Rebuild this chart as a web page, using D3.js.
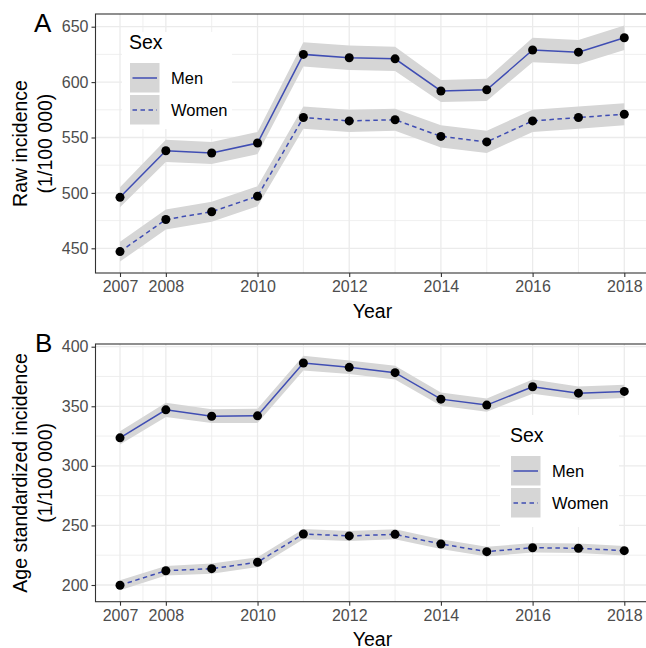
<!DOCTYPE html>
<html>
<head>
<meta charset="utf-8">
<script src="https://cdn.jsdelivr.net/npm/d3@7"></script>
<style>
  html, body { margin: 0; padding: 0; background: #fff; }
  svg { display: block; font-family: "Liberation Sans", Arial, Helvetica, sans-serif; }
</style>
</head>
<body>
<svg id="chart" width="646" height="648"></svg>
<script>
// ---------- DATA ----------
const years = [2007, 2008, 2009, 2010, 2011, 2012, 2013, 2014, 2015, 2016, 2017, 2018];
const xTickYears = [2007, 2008, 2010, 2012, 2014, 2016, 2018];
const xMinorYears = [2007.5, 2009, 2011, 2013, 2015, 2017];
const sexes = ["Men", "Women"];

// Panel A: raw incidence (1/100 000)
const rawMen      = [496, 538, 536, 545, 625, 622, 621, 592, 593, 629, 627, 640];
const rawMenLow   = [487, 528, 526, 535, 614, 611, 610, 582, 583, 618, 616, 629];
const rawMenHigh  = [505, 548, 546, 555, 636, 633, 632, 602, 603, 640, 638, 651];
const rawWomen    = [447, 476, 483, 497, 568, 565, 566, 551, 546, 565, 568, 571];
const rawWomenLow = [438, 467, 474, 488, 558, 555, 556, 541, 536, 555, 558, 561];
const rawWomenHigh= [456, 485, 492, 506, 578, 575, 576, 561, 556, 575, 578, 581];
const rawTicks = [450, 500, 550, 600, 650];
const rawMinor = [475, 525, 575, 625];

// Panel B: age standardized incidence (1/100 000)
const ageMen      = [323.5, 347, 341.6, 342, 386.3, 382.7, 378.2, 356, 351, 366.4, 361, 362.5];
const ageMenLow   = [318, 341, 336, 336, 380, 377, 372.5, 350.5, 345.5, 360.5, 355.5, 357];
const ageMenHigh  = [329, 353, 347.5, 348, 392.5, 388.5, 384, 361.5, 356.5, 372.5, 366.5, 368];
const ageWomen    = [199.8, 212, 213.7, 219.1, 242.8, 241.2, 242.5, 234.4, 228, 231.3, 230.8, 228.8];
const ageWomenLow = [195.5, 208, 209.5, 215, 238.5, 237, 238.3, 230.3, 224, 227.3, 226.8, 224.8];
const ageWomenHigh= [204, 216, 218, 223.3, 247, 245.4, 246.7, 238.5, 232, 235.3, 234.8, 232.8];
const ageTicks = [200, 250, 300, 350, 400];
const ageMinor = [225, 275, 325, 375];

// ---------- STYLE ----------
const BLUE = "#3F4DB3";
const RIBBON = "#D6D6D6";
const GRID = "#EBEBEB";
const BORDER = "#333333";
const TICKTXT = "#4D4D4D";

const svg = d3.select("#chart");

// shared x scale
const x = d3.scaleLinear().domain([2007, 2018]).range([120, 624.3]);
const plotLeft = 95.5, plotRight = 660;

function series(vals, lo, hi) {
  return years.map((yr, i) => ({ year: yr, v: vals[i], lo: lo[i], hi: hi[i] }));
}

function drawPanel(cfg) {
  const g = svg.append("g");
  const y = d3.scaleLinear().domain(cfg.yDomain).range(cfg.yRange);
  const top = cfg.top, bottom = cfg.bottom;

  // background
  g.append("rect").attr("x", plotLeft).attr("y", top)
    .attr("width", plotRight - plotLeft).attr("height", bottom - top).attr("fill", "#fff");

  // minor grid
  g.selectAll(".gxm").data(xMinorYears).join("line")
    .attr("x1", d => x(d)).attr("x2", d => x(d)).attr("y1", top).attr("y2", bottom)
    .attr("stroke", GRID).attr("stroke-width", 0.8);
  g.selectAll(".gym").data(cfg.minor).join("line")
    .attr("x1", plotLeft).attr("x2", plotRight).attr("y1", d => y(d)).attr("y2", d => y(d))
    .attr("stroke", GRID).attr("stroke-width", 0.8);
  // major grid
  g.selectAll(".gx").data(xTickYears).join("line")
    .attr("x1", d => x(d)).attr("x2", d => x(d)).attr("y1", top).attr("y2", bottom)
    .attr("stroke", GRID).attr("stroke-width", 1.3);
  g.selectAll(".gy").data(cfg.ticks).join("line")
    .attr("x1", plotLeft).attr("x2", plotRight).attr("y1", d => y(d)).attr("y2", d => y(d))
    .attr("stroke", GRID).attr("stroke-width", 1.3);

  const area = d3.area().x(d => x(d.year)).y0(d => y(d.lo)).y1(d => y(d.hi));
  const line = d3.line().x(d => x(d.year)).y(d => y(d.v));

  cfg.data.forEach(s => {
    g.append("path").attr("d", area(s.pts)).attr("fill", RIBBON);
  });
  cfg.data.forEach(s => {
    g.append("path").attr("d", line(s.pts)).attr("fill", "none")
      .attr("stroke", BLUE).attr("stroke-width", 1.5)
      .attr("stroke-dasharray", s.dashed ? "4.5,3.5" : null);
  });
  cfg.data.forEach(s => {
    g.selectAll(null).data(s.pts).join("circle")
      .attr("cx", d => x(d.year)).attr("cy", d => y(d.v)).attr("r", 4.5).attr("fill", "#000");
  });

  // legend
  const L = cfg.legend;
  g.append("rect").attr("x", L.bg[0]).attr("y", L.bg[1]).attr("width", L.bg[2]).attr("height", L.bg[3]).attr("fill", "#fff");
  g.append("text").attr("x", L.x - 1).attr("y", L.y - 14).attr("font-size", 19.5).attr("fill", "#000").text("Sex");
  sexes.forEach((name, i) => {
    const ky = L.y + i * 32;
    g.append("rect").attr("x", L.x).attr("y", ky).attr("width", 29.5).attr("height", 29.5).attr("fill", RIBBON);
    g.append("line").attr("x1", L.x + 2.5).attr("x2", L.x + 27).attr("y1", ky + 15).attr("y2", ky + 15)
      .attr("stroke", BLUE).attr("stroke-width", 1.5)
      .attr("stroke-dasharray", i === 1 ? "4.5,3.5" : null);
    g.append("text").attr("x", L.x + 41).attr("y", ky + 15).attr("dy", "0.35em")
      .attr("font-size", 16.5).attr("fill", "#000").text(name);
  });

  // border
  g.append("rect").attr("x", plotLeft).attr("y", top)
    .attr("width", plotRight - plotLeft).attr("height", bottom - top)
    .attr("fill", "none").attr("stroke", BORDER).attr("stroke-width", 1.1);

  // axes
  const ax = g.append("g").attr("transform", `translate(0,${bottom})`)
    .call(d3.axisBottom(x).tickValues(xTickYears).tickFormat(d3.format("d")).tickSize(4).tickSizeOuter(0).tickPadding(4));
  const ay = g.append("g").attr("transform", `translate(${plotLeft},0)`)
    .call(d3.axisLeft(y).tickValues(cfg.ticks).tickSize(4).tickSizeOuter(0).tickPadding(3));
  [ax, ay].forEach(a => {
    a.select(".domain").remove();
    a.selectAll(".tick line").attr("stroke", BORDER).attr("stroke-width", 1.1);
    a.selectAll(".tick text").attr("fill", TICKTXT).attr("font-size", 16)
      .attr("font-family", '"Liberation Sans", Arial, sans-serif');
  });

  // axis titles
  g.append("text").attr("x", 372.5).attr("y", cfg.yearBase).attr("text-anchor", "middle")
    .attr("font-size", 19.5).attr("fill", "#000").text("Year");
  const mid = (top + bottom) / 2;
  g.append("text").attr("transform", `translate(26.7,${mid}) rotate(-90)`).attr("text-anchor", "middle")
    .attr("font-size", 19.5).attr("fill", "#000").text(cfg.ytitle);
  g.append("text").attr("transform", `translate(51.5,${mid}) rotate(-90)`).attr("text-anchor", "middle")
    .attr("font-size", 19.5).attr("fill", "#000").text("(1/100 000)");

  // panel tag
  g.append("text").attr("x", cfg.tag[1]).attr("y", cfg.tag[2]).attr("font-size", 26).attr("fill", "#000").text(cfg.tag[0]);
}

drawPanel({
  top: 14, bottom: 273,
  yDomain: [450, 650], yRange: [248.3, 26.7],
  ticks: rawTicks, minor: rawMinor,
  data: [
    { pts: series(rawMen, rawMenLow, rawMenHigh), dashed: false },
    { pts: series(rawWomen, rawWomenLow, rawWomenHigh), dashed: true }
  ],
  legend: { x: 130, y: 63, bg: [122, 32, 110, 97] },
  yearBase: 318,
  ytitle: "Raw incidence",
  tag: ["A", 34, 32]
});

drawPanel({
  top: 344, bottom: 601.7,
  yDomain: [200, 400], yRange: [585, 346.7],
  ticks: ageTicks, minor: ageMinor,
  data: [
    { pts: series(ageMen, ageMenLow, ageMenHigh), dashed: false },
    { pts: series(ageWomen, ageWomenLow, ageWomenHigh), dashed: true }
  ],
  legend: { x: 511, y: 456, bg: [500, 415, 119, 112] },
  yearBase: 645.5,
  ytitle: "Age standardized incidence",
  tag: ["B", 35, 352]
});
</script>
</body>
</html>
